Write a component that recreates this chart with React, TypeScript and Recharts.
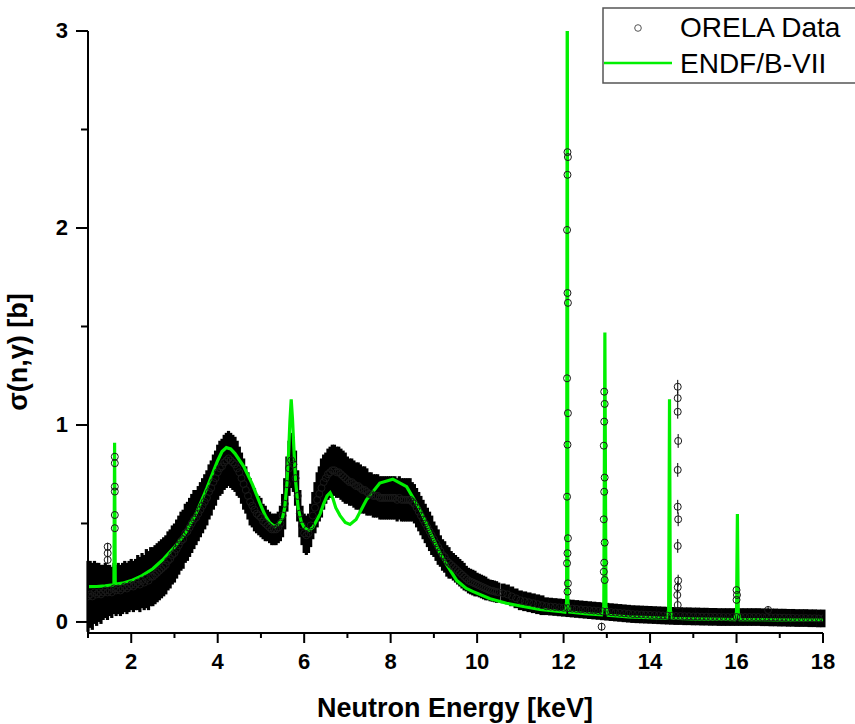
import React from "react";
import { ComposedChart, Scatter, Line, XAxis, YAxis, ErrorBar } from "recharts";

// ---------- axes ----------
const X_DOMAIN = [1, 18];
const Y_DOMAIN = [-0.056, 3];
const X_TICKS = [1, 2, 3, 4, 5, 6, 7, 8, 9, 10, 11, 12, 13, 14, 15, 16, 17, 18];
const Y_TICKS = [0, 0.5, 1, 1.5, 2, 2.5, 3];

// ---------- ORELA data: dense region 1.00..10.50 keV, step 0.05 ----------
const BAND_START = 1.0;
const BAND_STEP = 0.05;
const BAND_SIGMA = [
  0.13, 0.14, 0.13, 0.15, 0.14, 0.15, 0.14, 0.15, 0.16, 0.15,
  0.16, 0.15, 0.17, 0.16, 0.17, 0.16, 0.17, 0.18, 0.17, 0.18,
  0.19, 0.18, 0.19, 0.2, 0.19, 0.21, 0.2, 0.22, 0.21, 0.23,
  0.23, 0.24, 0.25, 0.26, 0.27, 0.28, 0.29, 0.31, 0.32, 0.34,
  0.35, 0.37, 0.39, 0.41, 0.42, 0.45, 0.46, 0.48, 0.5, 0.52,
  0.53, 0.55, 0.57, 0.59, 0.61, 0.63, 0.66, 0.68, 0.71, 0.73,
  0.76, 0.78, 0.79, 0.81, 0.82, 0.83, 0.82, 0.81, 0.8, 0.78,
  0.76, 0.73, 0.7, 0.67, 0.64, 0.61, 0.59, 0.57, 0.55, 0.54,
  0.53, 0.51, 0.5, 0.49, 0.48, 0.47, 0.47, 0.47, 0.48, 0.5,
  0.54, 0.6, 0.7, 0.78, 0.82, 0.8, 0.73, 0.64, 0.55, 0.49,
  0.45, 0.44, 0.45, 0.49, 0.54, 0.58, 0.62, 0.65, 0.68, 0.71,
  0.73, 0.75, 0.76, 0.77, 0.77, 0.76, 0.76, 0.75, 0.74, 0.73,
  0.72, 0.71, 0.71, 0.7, 0.69, 0.69, 0.68, 0.67, 0.67, 0.66,
  0.65, 0.65, 0.64, 0.64, 0.64, 0.63, 0.63, 0.63, 0.63, 0.63,
  0.63, 0.63, 0.63, 0.62, 0.63, 0.62, 0.62, 0.62, 0.62, 0.62,
  0.61, 0.6, 0.58, 0.56, 0.54, 0.52, 0.5, 0.48, 0.46, 0.44,
  0.42, 0.4, 0.38, 0.36, 0.34, 0.33, 0.31, 0.3, 0.29, 0.28,
  0.27, 0.26, 0.25, 0.24, 0.23, 0.22, 0.21, 0.205, 0.2, 0.195,
  0.19, 0.185, 0.18, 0.175, 0.17, 0.165, 0.16, 0.158, 0.155, 0.152,
  0.15,
];
const BAND_ERR = [
  0.18, 0.17, 0.17, 0.16, 0.16, 0.15, 0.15, 0.14, 0.14, 0.14,
  0.13, 0.13, 0.13, 0.13, 0.13, 0.13, 0.13, 0.13, 0.13, 0.13,
  0.13, 0.13, 0.13, 0.14, 0.14, 0.14, 0.14, 0.15, 0.15, 0.15,
  0.15, 0.15, 0.15, 0.15, 0.15, 0.15, 0.15, 0.15, 0.15, 0.15,
  0.15, 0.15, 0.15, 0.15, 0.15, 0.15, 0.15, 0.15, 0.15, 0.15,
  0.14, 0.14, 0.14, 0.14, 0.14, 0.14, 0.14, 0.14, 0.14, 0.14,
  0.14, 0.14, 0.14, 0.14, 0.14, 0.14, 0.14, 0.14, 0.14, 0.14,
  0.13, 0.13, 0.13, 0.12, 0.12, 0.12, 0.11, 0.11, 0.1, 0.1,
  0.1, 0.09, 0.09, 0.08, 0.08, 0.08, 0.08, 0.08, 0.08, 0.09,
  0.11, 0.13, 0.14, 0.14, 0.14, 0.14, 0.14, 0.13, 0.12, 0.1,
  0.1, 0.1, 0.1, 0.11, 0.12, 0.13, 0.14, 0.14, 0.15, 0.14,
  0.13, 0.13, 0.13, 0.13, 0.13, 0.13, 0.13, 0.13, 0.13, 0.13,
  0.12, 0.12, 0.12, 0.12, 0.12, 0.12, 0.12, 0.12, 0.12, 0.12,
  0.11, 0.11, 0.11, 0.11, 0.11, 0.11, 0.11, 0.11, 0.11, 0.11,
  0.11, 0.11, 0.11, 0.11, 0.11, 0.11, 0.11, 0.11, 0.11, 0.11,
  0.1, 0.1, 0.1, 0.1, 0.1, 0.1, 0.1, 0.1, 0.1, 0.1,
  0.09, 0.09, 0.09, 0.08, 0.08, 0.08, 0.08, 0.08, 0.07, 0.07,
  0.07, 0.07, 0.07, 0.07, 0.07, 0.065, 0.065, 0.065, 0.065, 0.065,
  0.06, 0.06, 0.06, 0.06, 0.06, 0.055, 0.055, 0.055, 0.055, 0.055,
  0.05,
];

// ---------- ORELA data: tail 10.6..18.0 keV, step 0.1 ----------
const TAIL_START = 10.6;
const TAIL_STEP = 0.1;
const TAIL_SIGMA = [
  0.145, 0.14, 0.13, 0.12, 0.11, 0.105, 0.1, 0.095, 0.09, 0.085,
  0.08, 0.078, 0.076, 0.074, 0.072, 0.07, 0.068, 0.066, 0.064, 0.062,
  0.06, 0.058, 0.056, 0.054, 0.052, 0.05, 0.048, 0.046, 0.044, 0.042,
  0.04, 0.039, 0.038, 0.037, 0.036, 0.035, 0.034, 0.033, 0.032, 0.031,
  0.03, 0.03, 0.029, 0.029, 0.028, 0.028, 0.027, 0.027, 0.026, 0.026,
  0.025, 0.025, 0.025, 0.025, 0.025, 0.025, 0.025, 0.025, 0.025, 0.025,
  0.024, 0.024, 0.023, 0.023, 0.022, 0.022, 0.021, 0.021, 0.02, 0.02,
  0.02, 0.019, 0.019, 0.018, 0.018,
];
const TAIL_ERR = [
  0.05, 0.05, 0.05, 0.05, 0.05, 0.05, 0.05, 0.05, 0.05, 0.05,
  0.045, 0.045, 0.045, 0.045, 0.045, 0.045, 0.045, 0.045, 0.045, 0.045,
  0.045, 0.045, 0.045, 0.045, 0.045, 0.045, 0.045, 0.045, 0.045, 0.045,
  0.045, 0.045, 0.045, 0.045, 0.045, 0.045, 0.045, 0.045, 0.045, 0.045,
  0.045, 0.045, 0.045, 0.045, 0.045, 0.045, 0.045, 0.045, 0.045, 0.045,
  0.045, 0.045, 0.045, 0.045, 0.045, 0.045, 0.045, 0.045, 0.045, 0.045,
  0.045, 0.045, 0.045, 0.045, 0.045, 0.045, 0.045, 0.045, 0.045, 0.045,
  0.045, 0.045, 0.045, 0.045, 0.045,
];

// ---------- ORELA data: isolated resonance points ----------
const RES_E = [
  1.62, 1.62, 1.62, 1.62, 1.62, 1.62, 1.455, 1.455, 1.455,
  12.09, 12.1, 12.09, 12.08, 12.09, 12.1, 12.08, 12.1, 12.09, 12.08, 12.1, 12.09, 12.08, 12.1, 12.09,
  12.94, 12.95, 12.94, 12.93, 12.95, 12.94, 12.93, 12.95, 12.94, 12.93, 12.95, 12.88,
  14.64, 14.64, 14.64, 14.65, 14.64, 14.64, 14.65, 14.64, 14.65, 14.64, 14.63, 14.64,
  16.0, 16.01, 16.0, 16.73,
];
const RES_SIGMA = [
  0.839, 0.806, 0.687, 0.662, 0.543, 0.476, 0.382, 0.349, 0.315,
  2.385, 2.36, 2.27, 1.99, 1.67, 1.62, 1.237, 1.06, 0.9, 0.636, 0.425, 0.349, 0.298, 0.196, 0.154,
  1.169, 1.107, 1.017, 0.895, 0.733, 0.661, 0.521, 0.403, 0.301, 0.255, 0.213, -0.024,
  1.194, 1.136, 1.067, 0.919, 0.772, 0.585, 0.521, 0.386, 0.21, 0.176, 0.137, 0.086,
  0.162, 0.137, 0.112, 0.061,
];
const RES_ERR = [
  0.02, 0.02, 0.02, 0.02, 0.02, 0.02, 0.02, 0.02, 0.02,
  0.03, 0.03, 0.03, 0.03, 0.03, 0.03, 0.03, 0.03, 0.03, 0.03, 0.03, 0.03, 0.03, 0.03, 0.03,
  0.025, 0.025, 0.025, 0.025, 0.025, 0.025, 0.025, 0.025, 0.025, 0.025, 0.025, 0.02,
  0.035, 0.035, 0.035, 0.035, 0.035, 0.035, 0.035, 0.035, 0.03, 0.03, 0.03, 0.03,
  0.02, 0.02, 0.02, 0.02,
];

// ---------- ENDF/B-VII evaluation ----------
const ENDF_E = [
  1.0, 1.2, 1.4, 1.58, 1.6, 1.615, 1.63, 1.65, 1.8, 2.0, 2.25, 2.5, 2.75, 3.0, 3.25, 3.5, 3.75,
  4.0, 4.1, 4.2, 4.3, 4.4, 4.6, 4.8, 5.0, 5.1, 5.2, 5.32, 5.42, 5.5, 5.55, 5.6, 5.64, 5.67,
  5.7, 5.73, 5.76, 5.8, 5.86, 5.93, 6.0, 6.06, 6.12, 6.2, 6.3, 6.37, 6.45, 6.53, 6.6, 6.66,
  6.73, 6.83, 6.95, 7.06, 7.2, 7.44, 7.75, 8.05, 8.37, 8.68, 8.99, 9.14, 9.3, 9.53, 9.75,
  9.91, 10.3, 10.68, 11.1, 11.45, 11.95, 12.03, 12.07, 12.085, 12.1, 12.14, 12.5, 12.88,
  12.93, 12.955, 12.98, 13.03, 13.5, 14.0, 14.39, 14.43, 14.45, 14.47, 14.51, 15.0, 15.5,
  15.96, 16.0, 16.02, 16.04, 16.08, 17.0, 18.0,
];
const ENDF_SIGMA = [
  0.179, 0.18, 0.183, 0.188, 0.19, 0.91, 0.195, 0.192, 0.197, 0.21, 0.235, 0.27, 0.32, 0.38, 0.45, 0.55, 0.68,
  0.82, 0.865, 0.885, 0.878, 0.855, 0.79, 0.7, 0.59, 0.54, 0.505, 0.484, 0.5, 0.53, 0.58, 0.7, 0.86, 1.02,
  1.13, 1.03, 0.89, 0.72, 0.58, 0.51, 0.48, 0.47, 0.467, 0.48, 0.52, 0.55, 0.6, 0.64, 0.656, 0.63,
  0.58, 0.54, 0.505, 0.495, 0.52, 0.62, 0.705, 0.725, 0.687, 0.57, 0.42, 0.35, 0.29, 0.21, 0.17,
  0.154, 0.118, 0.095, 0.077, 0.064, 0.052, 0.05, 0.1, 3.4, 0.1, 0.05, 0.042, 0.036,
  0.08, 1.47, 0.08, 0.034, 0.026, 0.022, 0.019, 0.06, 1.13, 0.06, 0.019, 0.016, 0.014,
  0.012, 0.05, 0.548, 0.05, 0.012, 0.011, 0.01,
];

// ---------- tables built from the arrays ----------
const bandData = BAND_SIGMA.map((y, i) => ({ x: +(BAND_START + i * BAND_STEP).toFixed(2), y, err: BAND_ERR[i] }));
const tailData = TAIL_SIGMA.map((y, i) => ({ x: +(TAIL_START + i * TAIL_STEP).toFixed(2), y, err: TAIL_ERR[i] }));
const resData = RES_E.map((x, i) => ({ x, y: RES_SIGMA[i], err: RES_ERR[i] }));
const endfData = ENDF_E.map((x, i) => ({ x, y: ENDF_SIGMA[i] }));

const FONT = "'Liberation Sans', Arial, Helvetica, sans-serif";
const GREEN = "#00f000";

const Circle = (p: any) =>
  p.cx == null || p.cy == null ? <g /> : (
    <circle cx={p.cx} cy={p.cy} r={3.5} fill="none" stroke="#1a1a1a" strokeWidth={1} />
  );

function BottomTick(props: any) {
  const { x, y, payload } = props;
  const v = Number(payload.value);
  const major = Math.round(v) % 2 === 0;
  return (
    <g>
      <line x1={x} y1={y} x2={x} y2={y + (major ? 10 : 5)} stroke="#000" strokeWidth={2} />
      {major && (
        <text x={x} y={y + 36} textAnchor="middle" fontFamily={FONT} fontWeight="bold" fontSize={22} fill="#000">
          {v}
        </text>
      )}
    </g>
  );
}
function TopTick(props: any) {
  const { x, y, payload } = props;
  const v = Number(payload.value);
  const major = Math.round(v) % 2 === 0;
  return <line x1={x} y1={y} x2={x} y2={y + (major ? 12 : 6)} stroke="#000" strokeWidth={2} />;
}
function LeftTick(props: any) {
  const { x, y, payload } = props;
  const v = Number(payload.value);
  const major = Number.isInteger(v);
  return (
    <g>
      <line x1={x - (major ? 12 : 7)} y1={y} x2={x} y2={y} stroke="#000" strokeWidth={2} />
      {major && (
        <text x={x - 20} y={y + 7} textAnchor="end" fontFamily={FONT} fontWeight="bold" fontSize={22} fill="#000">
          {v}
        </text>
      )}
    </g>
  );
}
function RightTick(props: any) {
  const { x, y, payload } = props;
  const v = Number(payload.value);
  const major = Number.isInteger(v);
  return <line x1={x - (major ? 12 : 6)} y1={y} x2={x} y2={y} stroke="#000" strokeWidth={2} />;
}

export default function App() {
  return (
    <div style={{ position: "relative", width: 855, height: 724, background: "#fff" }}>
      <style>{"body{margin:0;background:#fff}"}</style>
      <ComposedChart width={855} height={724} margin={{ top: 31, right: 32, bottom: 0, left: 0 }}>
        <XAxis
          xAxisId="main"
          type="number"
          dataKey="x"
          domain={X_DOMAIN}
          ticks={X_TICKS}
          interval={0}
          allowDataOverflow
          height={91}
          tickSize={0}
          tickMargin={0}
          tickLine={false}
          axisLine={{ stroke: "#000", strokeWidth: 2 }}
          tick={<BottomTick />}
        />
        <XAxis
          xAxisId="top"
          orientation="top"
          type="number"
          dataKey="x"
          domain={X_DOMAIN}
          ticks={X_TICKS}
          interval={0}
          allowDataOverflow
          height={0}
          tickSize={0}
          tickMargin={0}
          tickLine={false}
          axisLine={{ stroke: "#000", strokeWidth: 2 }}
          tick={<TopTick />}
        />
        <YAxis
          yAxisId="main"
          type="number"
          dataKey="y"
          domain={Y_DOMAIN}
          ticks={Y_TICKS}
          interval={0}
          allowDataOverflow
          width={88}
          tickSize={0}
          tickMargin={0}
          tickLine={false}
          axisLine={{ stroke: "#000", strokeWidth: 2 }}
          tick={<LeftTick />}
        />
        <YAxis
          yAxisId="right"
          orientation="right"
          type="number"
          dataKey="y"
          domain={Y_DOMAIN}
          ticks={Y_TICKS}
          interval={0}
          allowDataOverflow
          width={0}
          tickSize={0}
          tickMargin={0}
          tickLine={false}
          axisLine={{ stroke: "#000", strokeWidth: 2 }}
          tick={<RightTick />}
        />
        <Scatter
          name="ORELA Data"
          data={bandData}
          dataKey="y"
          xAxisId="main"
          yAxisId="main"
          isAnimationActive={false}
          shape={Circle}
        >
          <ErrorBar dataKey="err" direction="y" width={0} stroke="#000" strokeWidth={3.2} isAnimationActive={false} />
        </Scatter>
        <Scatter
          name="ORELA Data tail"
          data={tailData}
          dataKey="y"
          xAxisId="main"
          yAxisId="main"
          isAnimationActive={false}
          shape={Circle}
        >
          <ErrorBar dataKey="err" direction="y" width={0} stroke="#000" strokeWidth={5} isAnimationActive={false} />
        </Scatter>
        <Scatter
          name="ORELA Data resonances"
          data={resData}
          dataKey="y"
          xAxisId="main"
          yAxisId="main"
          isAnimationActive={false}
          shape={Circle}
        >
          <ErrorBar dataKey="err" direction="y" width={0} stroke="#000" strokeWidth={1} isAnimationActive={false} />
        </Scatter>
        <Line
          name="ENDF/B-VII"
          data={endfData}
          dataKey="y"
          xAxisId="main"
          yAxisId="main"
          type="linear"
          stroke={GREEN}
          strokeWidth={3.2}
          dot={false}
          activeDot={false}
          isAnimationActive={false}
        />
      </ComposedChart>
      <svg
        width={855}
        height={724}
        style={{ position: "absolute", left: 0, top: 0, pointerEvents: "none" }}
      >
        <text x={455} y={717} textAnchor="middle" fontFamily={FONT} fontWeight="bold" fontSize={27} fill="#000">
          Neutron Energy [keV]
        </text>
        <text
          x={27}
          y={352}
          transform="rotate(-90, 27, 352)"
          textAnchor="middle"
          fontFamily={FONT}
          fontWeight="bold"
          fontSize={27}
          fill="#000"
        >
          σ(n,γ) [b]
        </text>
        <rect x={603} y={8} width={270} height={75} fill="#fff" stroke="#555" strokeWidth={1.5} />
        <circle cx={638} cy={28} r={3.3} fill="none" stroke="#555" strokeWidth={1} />
        <text x={680} y={37} fontFamily={FONT} fontSize={28} fill="#000">
          ORELA Data
        </text>
        <line x1={604} y1={63} x2={672} y2={63} stroke={GREEN} strokeWidth={2.5} />
        <text x={680} y={73} fontFamily={FONT} fontSize={28} fill="#000">
          ENDF/B-VII
        </text>
      </svg>
    </div>
  );
}
